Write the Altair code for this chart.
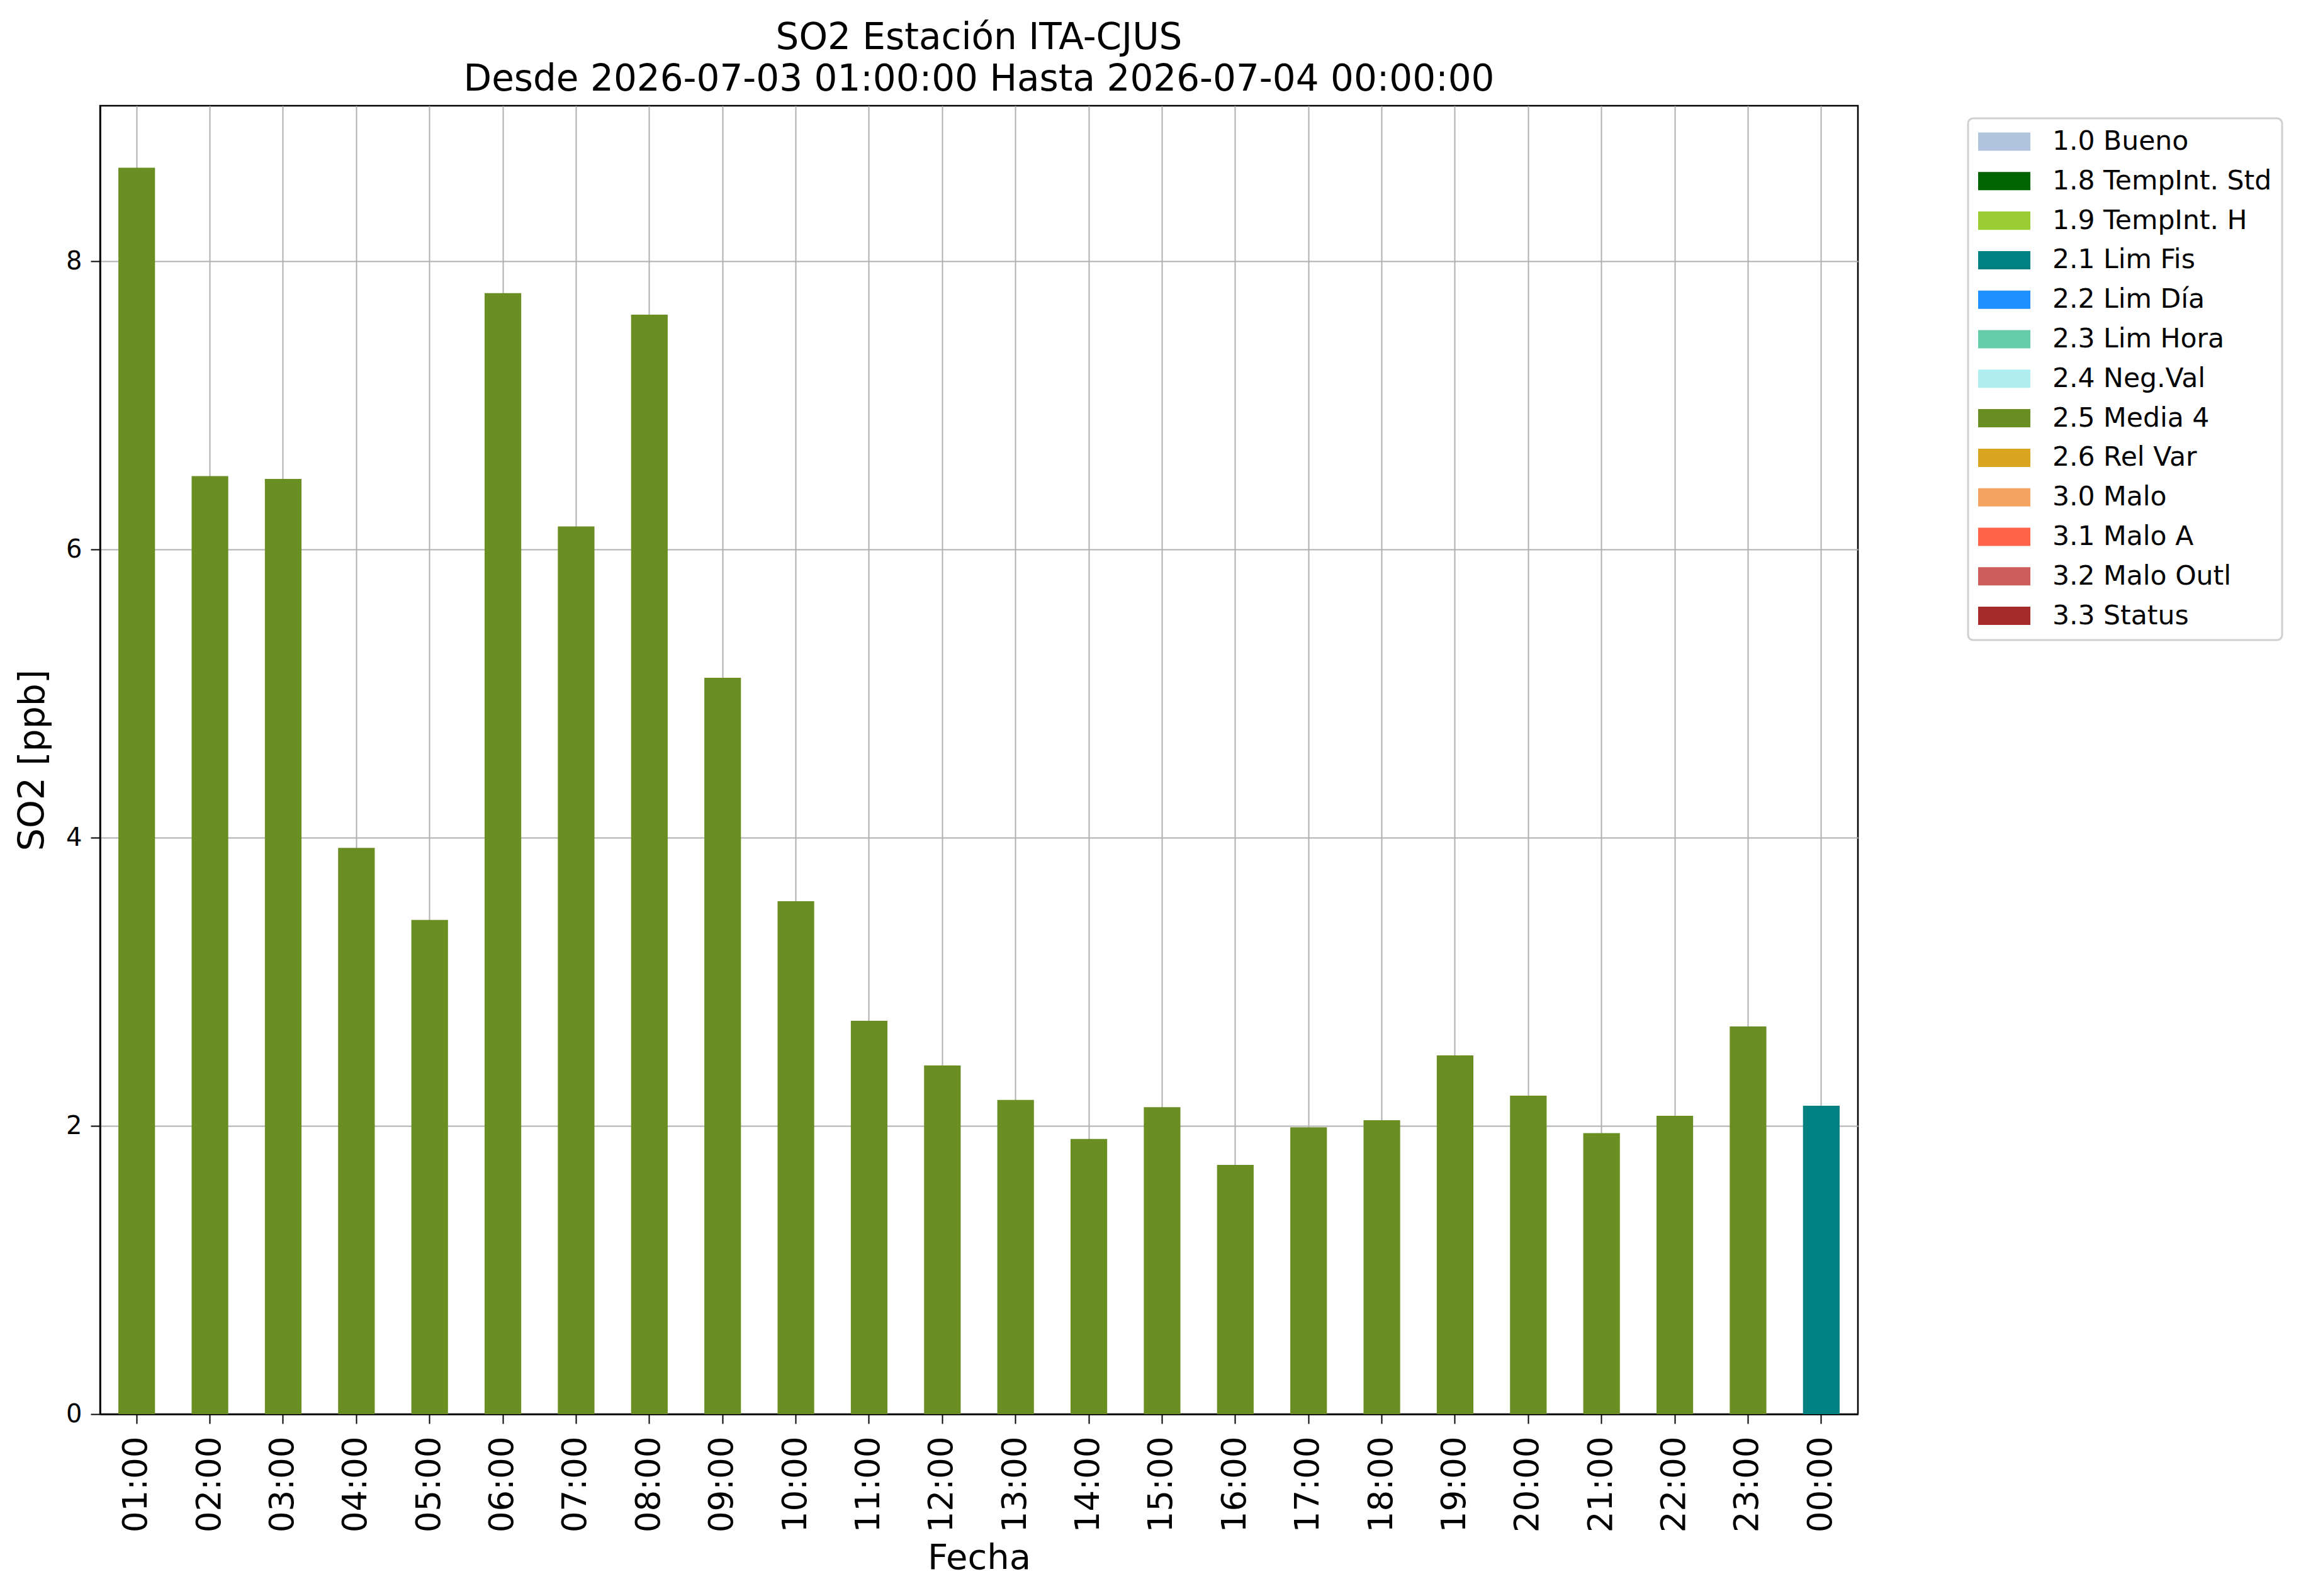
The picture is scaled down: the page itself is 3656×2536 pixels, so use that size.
import altair as alt
import pandas as pd

# ---- data ----
hours = ["01:00", "02:00", "03:00", "04:00", "05:00", "06:00", "07:00", "08:00",
         "09:00", "10:00", "11:00", "12:00", "13:00", "14:00", "15:00", "16:00",
         "17:00", "18:00", "19:00", "20:00", "21:00", "22:00", "23:00", "00:00"]
so2 = [8.65, 6.51, 6.49, 3.93, 3.43, 7.78, 6.16, 7.63, 5.11, 3.56, 2.73, 2.42,
       2.18, 1.91, 2.13, 1.73, 1.99, 2.04, 2.49, 2.21, 1.95, 2.07, 2.69, 2.14]
flags = ["2.5 Media 4"] * 23 + ["2.1 Lim Fis"]

flag_names = ["1.0 Bueno", "1.8 TempInt. Std", "1.9 TempInt. H", "2.1 Lim Fis",
              "2.2 Lim Día", "2.3 Lim Hora", "2.4 Neg.Val", "2.5 Media 4",
              "2.6 Rel Var", "3.0 Malo", "3.1 Malo A", "3.2 Malo Outl", "3.3 Status"]
flag_colors = ["#B0C4DE", "#006400", "#9ACD32", "#008080", "#1E90FF", "#66CDAA",
               "#AFEEEE", "#6B8E23", "#DAA520", "#F4A460", "#FF6347", "#CD5C5C",
               "#A52A2A"]

df = pd.DataFrame({"Fecha": hours, "SO2": so2, "Flag": flags})

FONT = "DejaVu Sans"

bars = alt.Chart(df).mark_bar(opacity=1).encode(
    x=alt.X("Fecha:N", sort=None,
            scale=alt.Scale(paddingInner=0.5, paddingOuter=0.25),
            axis=alt.Axis(title="Fecha", labelAngle=-90, labelFontSize=53,
                          titleFontSize=56, bandPosition=0.5, labelPadding=20,
                          titlePadding=14)),
    y=alt.Y("SO2:Q", scale=alt.Scale(domain=[0, 9.08], nice=False),
            axis=alt.Axis(title="SO2 [ppb]", values=[0, 2, 4, 6, 8], labelFontSize=40,
                          titleFontSize=57, labelPadding=14, titlePadding=23)),
    color=alt.Color("Flag:N",
                    scale=alt.Scale(domain=flag_names, range=flag_colors),
                    legend=alt.Legend(title=None, orient="none", legendX=2968, legendY=20,
                                      symbolType="M-1,-0.35L1,-0.35L1,0.35L-1,0.35Z",
                                      symbolSize=6889, symbolStrokeWidth=0,
                                      symbolOpacity=1, clipHeight=42,
                                      labelFontSize=42.5, labelFont=FONT,
                                      labelColor="black", labelOffset=35,
                                      labelLimit=600, padding=16, rowPadding=19.8,
                                      fillColor="white", strokeColor="#d0d0d0",
                                      cornerRadius=8)),
)

chart = bars.properties(
    width=2793,
    height=2079,
    autosize=alt.AutoSizeParams(type="none"),
    padding={"left": 151, "top": 160, "right": 696, "bottom": 281},
    title=alt.Title(["SO2 Estación ITA-CJUS",
                     "Desde 2026-07-03 01:00:00 Hasta 2026-07-04 00:00:00"],
                    fontSize=58, lineHeight=66, font=FONT, fontWeight="normal",
                    color="black", anchor="middle", offset=12),
).configure_view(
    stroke="black", strokeWidth=2.5
).configure_axis(
    labelFont=FONT, titleFont=FONT, labelColor="black", titleColor="black",
    titleFontWeight="normal", grid=True, gridColor="#b0b0b0", gridWidth=2,
    domainColor="black", domainWidth=2.5, tickColor="black", tickWidth=2,
    tickSize=15, zindex=1
).configure_legend(
    strokeWidth=3
)

chart.save("out.html", embed_options={"renderer": "svg", "actions": False})
